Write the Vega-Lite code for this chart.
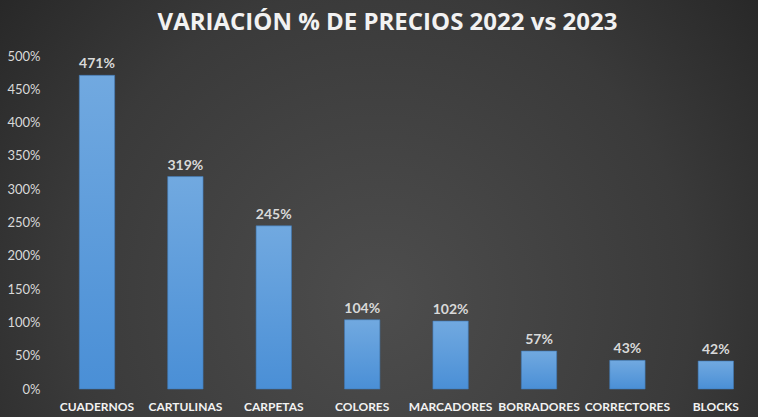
{
  "$schema": "https://vega.github.io/schema/vega-lite/v6.json",
  "width": 758,
  "height": 417,
  "autosize": {"type": "none"},
  "padding": 0,
  "background": "#262626",
  "view": {
    "stroke": null,
    "fill": {
      "gradient": "radial",
      "x1": 0.5, "y1": 0.62, "r1": 0,
      "x2": 0.5, "y2": 0.62, "r2": 0.75,
      "stops": [
        {"offset": 0, "color": "#4d4d4d"},
        {"offset": 0.55, "color": "#3a3a3a"},
        {"offset": 1, "color": "#1f1f1f"}
      ]
    }
  },
  "data": {
    "values": [
      {"producto": "CUADERNOS", "variacion": 4.71},
      {"producto": "CARTULINAS", "variacion": 3.19},
      {"producto": "CARPETAS", "variacion": 2.45},
      {"producto": "COLORES", "variacion": 1.04},
      {"producto": "MARCADORES", "variacion": 1.02},
      {"producto": "BORRADORES", "variacion": 0.57},
      {"producto": "CORRECTORES", "variacion": 0.43},
      {"producto": "BLOCKS", "variacion": 0.42}
    ]
  },
  "encoding": {
    "x": {
      "field": "producto",
      "type": "nominal",
      "sort": null,
      "scale": {"paddingInner": 0.6, "paddingOuter": 0.587, "align": 0.764},
      "axis": {
        "title": null,
        "labelAngle": 0,
        "ticks": false,
        "domain": false,
        "offset": -28,
        "labelPadding": 12,
        "labelFont": "Lato",
        "labelFontSize": 12,
        "labelFontWeight": "bold",
        "labelColor": "#f2f2f2",
        "labelOverlap": false,
        "labelBound": false,
        "labelFlush": false
      }
    },
    "y": {
      "field": "variacion",
      "type": "quantitative",
      "scale": {"domain": [-0.4204, 5.841], "nice": false, "zero": false},
      "axis": {
        "title": "VARIACIÓN % DE PRECIOS 2022 vs 2023",
        "titleFont": "Open Sans",
        "titleFontSize": 24,
        "titleFontWeight": "bold",
        "titleColor": "#f2f2f2",
        "titleAngle": 0,
        "titleAlign": "center",
        "titleBaseline": "middle",
        "titleX": 334,
        "titleY": 22,
        "values": [0, 0.5, 1, 1.5, 2, 2.5, 3, 3.5, 4, 4.5, 5],
        "format": ".0%",
        "grid": false,
        "ticks": false,
        "domain": false,
        "offset": -53,
        "labelPadding": 13,
        "labelFont": "Lato",
        "labelFontSize": 13,
        "labelColor": "#d9d9d9"
      }
    }
  },
  "layer": [
    {
      "mark": {
        "type": "bar",
        "stroke": "#3f78b5",
        "strokeWidth": 0.6,
        "fill": {
          "gradient": "linear",
          "x1": 0, "y1": 0, "x2": 0, "y2": 1,
          "stops": [
            {"offset": 0, "color": "#71a9e0"},
            {"offset": 1, "color": "#4a8fd6"}
          ]
        }
      },
      "encoding": {"y2": {"datum": 0}}
    },
    {
      "mark": {
        "type": "text",
        "baseline": "bottom",
        "dy": -4,
        "font": "Lato",
        "fontSize": 14,
        "fontWeight": "bold",
        "color": "#d9d9d9"
      },
      "encoding": {
        "text": {"field": "variacion", "type": "quantitative", "format": ".0%"}
      }
    }
  ]
}
